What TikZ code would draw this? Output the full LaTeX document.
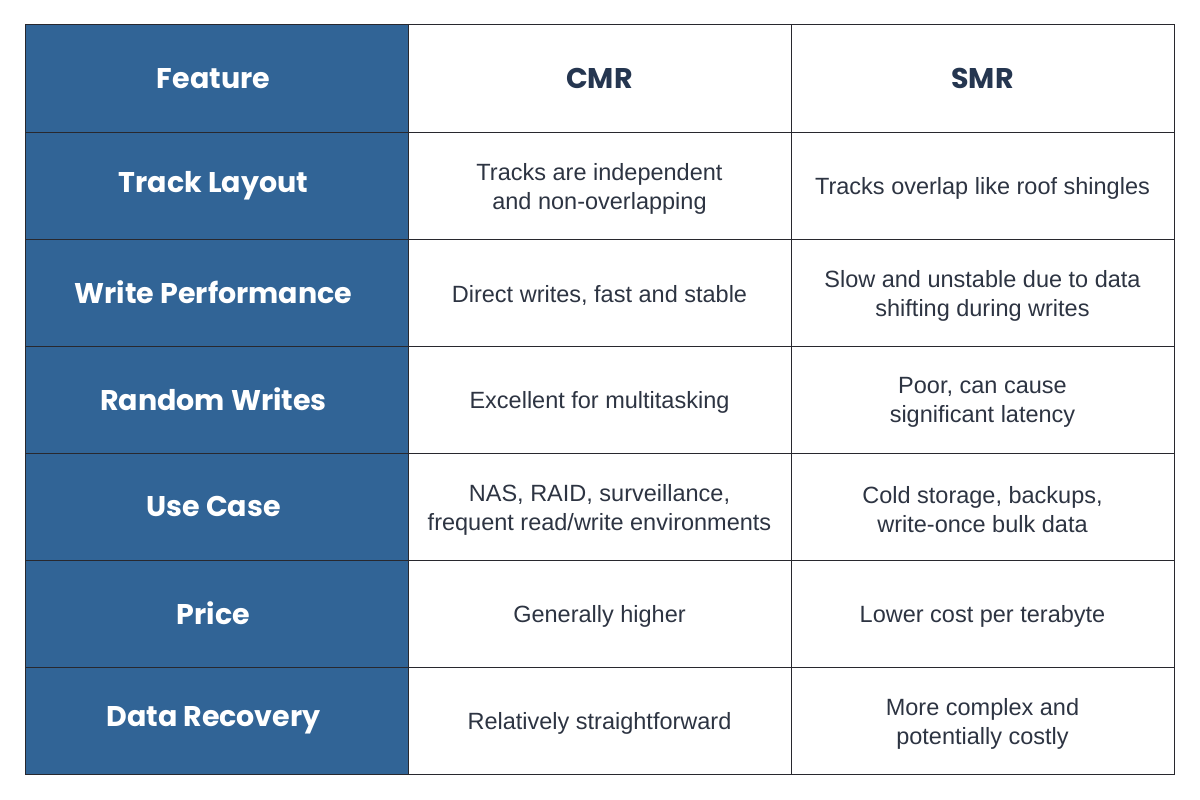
\documentclass[tikz,border=0pt]{standalone}
\usepackage{fontspec}
\setmainfont{Liberation Sans}
\newfontfamily\headfont{Poppins}[BoldFont={* Bold}]
\definecolor{featblue}{RGB}{49,100,150}
\definecolor{bodytext}{RGB}{45,52,66}
\definecolor{headnavy}{RGB}{37,54,80}
\definecolor{gridline}{RGB}{40,40,46}
\tikzset{
  cellbox/.style={draw=gridline, line width=1pt, minimum width=383pt, minimum height=107pt, inner sep=0pt, outer sep=0pt, align=center, anchor=center},
  featcell/.style={cellbox, fill=featblue},
  feattxt/.style={inner sep=0pt, align=center, anchor=center, text=white, font=\headfont\bfseries\fontsize{28.5}{33}\selectfont},
  headcell/.style={cellbox, fill=white, text=headnavy, font=\headfont\bfseries\fontsize{28.5}{33}\selectfont},
  bodycell/.style={cellbox, fill=white},
  bodytxt/.style={inner sep=0pt, align=center, anchor=center, text=bodytext, font=\fontsize{23.5}{29}\selectfont}
}
\begin{document}
\begin{tikzpicture}[x=1pt,y=-1pt]
\useasboundingbox[fill=white] (0,0) rectangle (1200,800);
% column centres 216.5, 599.5, 982.5 ; row centres 78.5 + 107k
\node[featcell] (f0) at (216.5,78.5) {};
\node[feattxt] (tf0) at ([xshift=-3pt]f0.center) {Feature};
\node[headcell] (h1) at (599.5,78.5) {CMR};
\node[headcell] (h2) at (982.5,78.5) {SMR};

\node[featcell] (f1) at (216.5,185.5) {};
\node[feattxt] (tf1) at ([xshift=-3pt]f1.center) {Track Layout};
\node[bodycell] (a1) at (599.5,185.5) {};
\node[bodycell] (b1) at (982.5,185.5) {};
\node[bodytxt] (ta1) at ([yshift=-3pt]a1.center) {Tracks are independent\\and non-overlapping};
\node[bodytxt] (tb1) at ([yshift=-3pt]b1.center) {Tracks overlap like roof shingles};

\node[featcell] (f2) at (216.5,292.5) {};
\node[feattxt] (tf2) at ([xshift=-3pt]f2.center) {Write Performance};
\node[bodycell] (a2) at (599.5,292.5) {};
\node[bodycell] (b2) at (982.5,292.5) {};
\node[bodytxt] (ta2) at ([yshift=-3pt]a2.center) {Direct writes, fast and stable};
\node[bodytxt] (tb2) at ([yshift=-3pt]b2.center) {Slow and unstable due to data\\shifting during writes};

\node[featcell] (f3) at (216.5,399.5) {};
\node[feattxt] (tf3) at ([xshift=-3pt]f3.center) {Random Writes};
\node[bodycell] (a3) at (599.5,399.5) {};
\node[bodycell] (b3) at (982.5,399.5) {};
\node[bodytxt] (ta3) at ([yshift=-3pt]a3.center) {Excellent for multitasking};
\node[bodytxt] (tb3) at ([yshift=-3pt]b3.center) {Poor, can cause\\significant latency};

\node[featcell] (f4) at (216.5,506.5) {};
\node[feattxt] (tf4) at ([xshift=-3pt]f4.center) {Use Case};
\node[bodycell] (a4) at (599.5,506.5) {};
\node[bodycell] (b4) at (982.5,506.5) {};
\node[bodytxt] (ta4) at ([yshift=-3pt]a4.center) {NAS, RAID, surveillance,\\frequent read/write environments};
\node[bodytxt] (tb4) at ([yshift=-3pt]b4.center) {Cold storage, backups,\\write-once bulk data};

\node[featcell] (f5) at (216.5,613.5) {};
\node[feattxt] (tf5) at ([xshift=-3pt]f5.center) {Price};
\node[bodycell] (a5) at (599.5,613.5) {};
\node[bodycell] (b5) at (982.5,613.5) {};
\node[bodytxt] (ta5) at ([yshift=-3pt]a5.center) {Generally higher};
\node[bodytxt] (tb5) at ([yshift=-3pt]b5.center) {Lower cost per terabyte};

\node[featcell] (f6) at (216.5,720.5) {};
\node[feattxt] (tf6) at ([xshift=-3pt]f6.center) {Data Recovery};
\node[bodycell] (a6) at (599.5,720.5) {};
\node[bodycell] (b6) at (982.5,720.5) {};
\node[bodytxt] (ta6) at ([yshift=-3pt]a6.center) {Relatively straightforward};
\node[bodytxt] (tb6) at ([yshift=-3pt]b6.center) {More complex and\\potentially costly};
\end{tikzpicture}
\end{document}
